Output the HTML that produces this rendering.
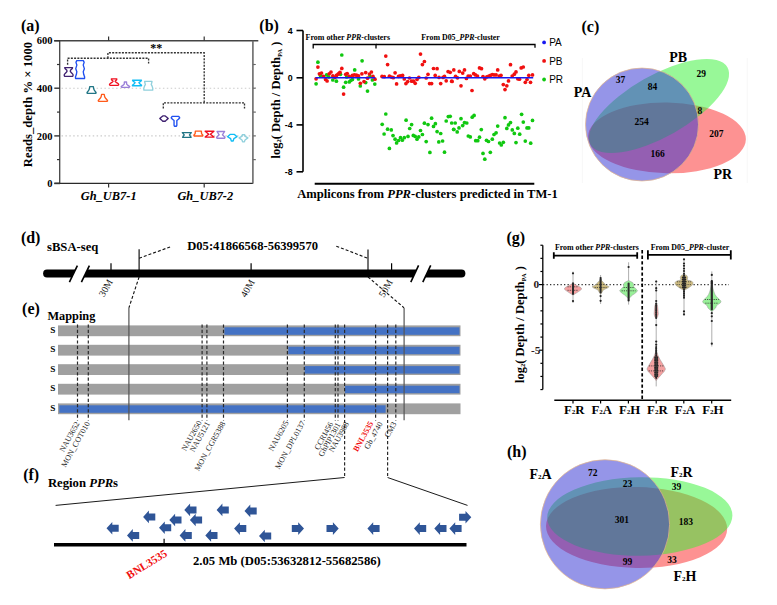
<!DOCTYPE html><html><head><meta charset="utf-8"><style>html,body{margin:0;padding:0;background:#fff;}svg{display:block;}</style></head><body>
<svg width="777" height="605" viewBox="0 0 777 605">
<rect width="777" height="605" fill="#fff"/>
<text x="21" y="30.5" font-family='"Liberation Serif", serif' font-size="16" font-weight="bold" text-anchor="start" fill="#000" >(a)</text>
<line x1="61.5" y1="88.2" x2="251" y2="88.2" stroke="#cccccc" stroke-width="1.1" stroke-dasharray="1.5,2.4" />
<line x1="61.5" y1="135.9" x2="251" y2="135.9" stroke="#cccccc" stroke-width="1.1" stroke-dasharray="1.5,2.4" />
<line x1="54.1" y1="40.7" x2="258.3" y2="40.7" stroke="#444" stroke-width="1.5" />
<line x1="59.7" y1="40.7" x2="59.7" y2="183.4" stroke="#444" stroke-width="1.3" />
<line x1="54.4" y1="183.4" x2="253.1" y2="183.4" stroke="#2a2a2a" stroke-width="1.4" />
<line x1="252.9" y1="40.7" x2="252.9" y2="183.4" stroke="#6a6a6a" stroke-width="1.6" />
<line x1="54.3" y1="40.7" x2="60" y2="40.7" stroke="#333" stroke-width="1.4" />
<text x="52.5" y="44.300000000000004" font-family='"Liberation Serif", serif' font-size="10.5" font-weight="bold" text-anchor="end" fill="#000" >600</text>
<line x1="54.3" y1="88.2" x2="60" y2="88.2" stroke="#333" stroke-width="1.4" />
<text x="52.5" y="91.8" font-family='"Liberation Serif", serif' font-size="10.5" font-weight="bold" text-anchor="end" fill="#000" >400</text>
<line x1="54.3" y1="135.9" x2="60" y2="135.9" stroke="#333" stroke-width="1.4" />
<text x="52.5" y="139.5" font-family='"Liberation Serif", serif' font-size="10.5" font-weight="bold" text-anchor="end" fill="#000" >200</text>
<line x1="54.3" y1="183.4" x2="60" y2="183.4" stroke="#333" stroke-width="1.6" />
<text x="52.5" y="187.0" font-family='"Liberation Serif", serif' font-size="10.5" font-weight="bold" text-anchor="end" fill="#000" >0</text>
<line x1="57" y1="64.5" x2="60" y2="64.5" stroke="#333" stroke-width="1.2" />
<line x1="57" y1="112.1" x2="60" y2="112.1" stroke="#333" stroke-width="1.2" />
<line x1="57" y1="159.6" x2="60" y2="159.6" stroke="#333" stroke-width="1.2" />
<line x1="252.9" y1="64.5" x2="255.8" y2="64.5" stroke="#6a6a6a" stroke-width="1.2" />
<line x1="252.9" y1="88.2" x2="255.8" y2="88.2" stroke="#6a6a6a" stroke-width="1.2" />
<line x1="252.9" y1="112.1" x2="255.8" y2="112.1" stroke="#6a6a6a" stroke-width="1.2" />
<line x1="252.9" y1="135.9" x2="255.8" y2="135.9" stroke="#6a6a6a" stroke-width="1.2" />
<line x1="252.9" y1="159.6" x2="255.8" y2="159.6" stroke="#6a6a6a" stroke-width="1.2" />
<line x1="108.6" y1="36.6" x2="108.6" y2="40.7" stroke="#333" stroke-width="1.2" />
<line x1="108.6" y1="183.5" x2="108.6" y2="187.5" stroke="#333" stroke-width="1.2" />
<line x1="204.2" y1="36.6" x2="204.2" y2="40.7" stroke="#333" stroke-width="1.2" />
<line x1="204.2" y1="183.5" x2="204.2" y2="187.5" stroke="#333" stroke-width="1.2" />
<text transform="translate(31.5,104.5) rotate(-90)" font-family='"Liberation Serif", serif' font-size="12.7" font-weight="bold" text-anchor="middle">Reads_depth % × 1000</text>
<text x="108.7" y="199.5" font-family='"Liberation Serif", serif' font-size="12.4" font-weight="bold" text-anchor="middle" fill="#000" font-style="italic" >Gh_UB7-1</text>
<text x="205.3" y="199.5" font-family='"Liberation Serif", serif' font-size="12.4" font-weight="bold" text-anchor="middle" fill="#000" font-style="italic" >Gh_UB7-2</text>
<text x="156.2" y="51.5" font-family='"Liberation Serif", serif' font-size="12" font-weight="bold" text-anchor="middle" fill="#000" >**</text>
<path d="M67.6,64.7 V58.2 H148.6 V63.5" stroke="#333" stroke-width="1.35" fill="none" stroke-dasharray="2,1.25" />
<path d="M107.9,58.2 V52.7 H204.2 V102.8" stroke="#333" stroke-width="1.35" fill="none" stroke-dasharray="2,1.25" />
<path d="M163.3,108.6 V102.8 H244.5 V108.6" stroke="#333" stroke-width="1.35" fill="none" stroke-dasharray="2,1.25" />
<path d="M72.55,67.60 L72.35,68.47 L70.45,70.21 L70.35,71.52 L71.45,72.82 L72.95,74.39 L73.05,75.60 L72.75,76.30 L64.55,76.30 L64.25,75.60 L64.35,74.39 L65.85,72.82 L66.95,71.52 L66.85,70.21 L64.95,68.47 L64.75,67.60 Z" stroke="#3F2170" stroke-width="1.35" fill="#fff" stroke-linejoin="round"/>
<path d="M83.35,60.60 L84.15,62.39 L83.25,65.08 L84.35,68.66 L83.25,71.70 L83.75,74.56 L84.65,77.07 L84.55,78.50 L75.55,78.50 L75.45,77.07 L76.35,74.56 L76.85,71.70 L75.75,68.66 L76.85,65.08 L75.95,62.39 L76.75,60.60 Z" stroke="#2050F0" stroke-width="1.35" fill="#fff" stroke-linejoin="round"/>
<path d="M93.35,86.60 L93.65,88.61 L94.15,89.95 L95.15,91.29 L96.05,92.50 L95.85,93.30 L87.25,93.30 L87.05,92.50 L87.95,91.29 L88.95,89.95 L89.45,88.61 L89.75,86.60 Z" stroke="#207585" stroke-width="1.35" fill="#fff" stroke-linejoin="round"/>
<path d="M104.20,94.40 L104.70,96.81 L105.80,98.54 L107.10,99.92 L107.60,100.75 L107.10,101.30 L98.70,101.30 L98.20,100.75 L98.70,99.92 L100.00,98.54 L101.10,96.81 L101.60,94.40 Z" stroke="#FF5A1A" stroke-width="1.35" fill="#fff" stroke-linejoin="round"/>
<path d="M116.80,78.80 L116.70,79.79 L115.10,81.31 L116.30,82.43 L118.30,83.75 L118.70,84.74 L117.90,85.40 L110.30,85.40 L109.50,84.74 L109.90,83.75 L111.90,82.43 L113.10,81.31 L111.50,79.79 L111.40,78.80 Z" stroke="#F01020" stroke-width="1.35" fill="#fff" stroke-linejoin="round"/>
<path d="M126.55,82.00 L126.65,84.12 L128.05,85.44 L129.75,86.50 L129.35,87.30 L121.55,87.30 L121.15,86.50 L122.85,85.44 L124.25,84.12 L124.35,82.00 Z" stroke="#9A80D8" stroke-width="1.35" fill="#fff" stroke-linejoin="round"/>
<path d="M141.50,80.20 L140.80,81.30 L138.90,82.67 L140.00,84.05 L141.40,85.04 L141.60,85.70 L132.40,85.70 L132.60,85.04 L134.00,84.05 L135.10,82.67 L133.20,81.30 L132.50,80.20 Z" stroke="#10BDF5" stroke-width="1.35" fill="#fff" stroke-linejoin="round"/>
<path d="M152.00,81.30 L151.70,83.06 L151.20,84.38 L152.10,86.14 L152.80,88.34 L152.70,90.10 L143.90,90.10 L143.80,88.34 L144.50,86.14 L145.40,84.38 L144.90,83.06 L144.60,81.30 Z" stroke="#90D0DC" stroke-width="1.35" fill="#fff" stroke-linejoin="round"/>
<path d="M165.20,115.90 L166.80,117.23 L168.20,118.55 L166.60,119.88 L165.20,121.20 L162.80,121.20 L161.40,119.88 L159.80,118.55 L161.20,117.23 L162.80,115.90 Z" stroke="#3F2170" stroke-width="1.35" fill="#fff" stroke-linejoin="round"/>
<path d="M178.75,116.30 L179.75,117.78 L178.45,119.27 L176.85,120.46 L176.85,125.21 L176.45,126.20 L174.45,126.20 L174.05,125.21 L174.05,120.46 L172.45,119.27 L171.15,117.78 L172.15,116.30 Z" stroke="#2050F0" stroke-width="1.35" fill="#fff" stroke-linejoin="round"/>
<path d="M191.35,132.60 L189.45,134.95 L191.15,137.30 L182.55,137.30 L184.25,134.95 L182.35,132.60 Z" stroke="#207585" stroke-width="1.35" fill="#fff" stroke-linejoin="round"/>
<path d="M201.35,131.10 L201.55,133.55 L202.85,135.26 L202.55,136.00 L194.15,136.00 L193.85,135.26 L195.15,133.55 L195.35,131.10 Z" stroke="#FF5A1A" stroke-width="1.35" fill="#fff" stroke-linejoin="round"/>
<path d="M213.95,131.20 L210.35,134.15 L213.95,137.10 L205.15,137.10 L208.75,134.15 L205.15,131.20 Z" stroke="#F01020" stroke-width="1.35" fill="#fff" stroke-linejoin="round"/>
<path d="M224.60,131.50 L222.40,134.85 L225.00,137.19 L224.60,138.20 L217.00,138.20 L216.60,137.19 L219.20,134.85 L217.00,131.50 Z" stroke="#9A80D8" stroke-width="1.35" fill="#fff" stroke-linejoin="round"/>
<path d="M234.45,134.40 L236.95,136.71 L233.85,138.69 L233.15,141.00 L231.35,141.00 L230.65,138.69 L227.55,136.71 L230.05,134.40 Z" stroke="#10BDF5" stroke-width="1.35" fill="#fff" stroke-linejoin="round"/>
<path d="M244.70,134.70 L244.80,136.12 L247.90,137.90 L245.00,140.03 L244.40,141.80 L242.60,141.80 L242.00,140.03 L239.10,137.90 L242.20,136.12 L242.30,134.70 Z" stroke="#90D0DC" stroke-width="1.35" fill="#fff" stroke-linejoin="round"/>
<text x="259.3" y="31" font-family='"Liberation Serif", serif' font-size="16" font-weight="bold" text-anchor="start" fill="#000" >(b)</text>
<line x1="303" y1="30.5" x2="303" y2="171.8" stroke="#000" stroke-width="1.6" />
<line x1="296.5" y1="30.5" x2="303" y2="30.5" stroke="#000" stroke-width="1.6" />
<text x="292.6" y="33.9" font-family='"Liberation Sans", sans-serif' font-size="8.8" font-weight="bold" text-anchor="end" fill="#000" >4</text>
<line x1="296.5" y1="77.8" x2="303" y2="77.8" stroke="#000" stroke-width="1.6" />
<text x="292.6" y="81.2" font-family='"Liberation Sans", sans-serif' font-size="8.8" font-weight="bold" text-anchor="end" fill="#000" >0</text>
<line x1="296.5" y1="124.9" x2="303" y2="124.9" stroke="#000" stroke-width="1.6" />
<text x="292.6" y="128.3" font-family='"Liberation Sans", sans-serif' font-size="8.8" font-weight="bold" text-anchor="end" fill="#000" >-4</text>
<line x1="296.5" y1="171.8" x2="303" y2="171.8" stroke="#000" stroke-width="1.6" />
<text x="292.6" y="175.20000000000002" font-family='"Liberation Sans", sans-serif' font-size="8.8" font-weight="bold" text-anchor="end" fill="#000" >-8</text>
<text transform="translate(280,100) rotate(-90)" font-family='"Liberation Serif", serif' font-size="12.5" font-weight="bold" text-anchor="middle">log<tspan font-size="6.5" dy="1.2">2</tspan><tspan dy="-1.2">( Depth / Depth</tspan><tspan font-size="6.5" dy="1.5">PA</tspan><tspan dy="-1.5"> )</tspan></text>
<path d="M313.2,48.4 V44.5 H376 V48.4" stroke="#000" stroke-width="1.3" fill="none" />
<path d="M376,44.5 H535 V47.8" stroke="#000" stroke-width="1.3" fill="none" />
<text x="305.6" y="40.2" font-family='"Liberation Serif", serif' font-size="7.95" font-weight="bold" text-anchor="start" fill="#000" >From other <tspan font-style="italic">PPR</tspan>-clusters</text>
<text x="421.3" y="40.2" font-family='"Liberation Serif", serif' font-size="7.9" font-weight="bold" text-anchor="start" fill="#000" >From D05_<tspan font-style="italic">PPR</tspan>-cluster</text>
<line x1="314.7" y1="183.8" x2="534.3" y2="183.8" stroke="#000" stroke-width="1.9" />
<text x="297.2" y="197.8" font-family='"Liberation Serif", serif' font-size="12.6" font-weight="bold" text-anchor="start" fill="#000" >Amplicons from <tspan font-style="italic">PPR</tspan>-clusters predicted in TM-1</text>
<circle cx="317.9" cy="62.2" r="1.85" fill="#10C810"/>
<circle cx="316.1" cy="83.8" r="1.85" fill="#10C810"/>
<circle cx="341.8" cy="55" r="1.85" fill="#10C810"/>
<circle cx="354.7" cy="69.9" r="1.85" fill="#10C810"/>
<circle cx="362.1" cy="60.8" r="1.85" fill="#10C810"/>
<circle cx="343.6" cy="87.2" r="1.85" fill="#10C810"/>
<circle cx="345.7" cy="82.3" r="1.85" fill="#10C810"/>
<circle cx="349.3" cy="81.9" r="1.85" fill="#10C810"/>
<circle cx="350.8" cy="80.5" r="1.85" fill="#10C810"/>
<circle cx="352.4" cy="79.5" r="1.85" fill="#10C810"/>
<circle cx="332.8" cy="80" r="1.85" fill="#10C810"/>
<circle cx="336.4" cy="81.2" r="1.85" fill="#10C810"/>
<circle cx="360.3" cy="86" r="1.85" fill="#10C810"/>
<circle cx="365.7" cy="82.6" r="1.85" fill="#10C810"/>
<circle cx="367.5" cy="91.1" r="1.85" fill="#10C810"/>
<circle cx="372.4" cy="80" r="1.85" fill="#10C810"/>
<circle cx="374.8" cy="84.1" r="1.85" fill="#10C810"/>
<circle cx="358.5" cy="79" r="1.85" fill="#10C810"/>
<circle cx="320.4" cy="75.4" r="1.85" fill="#10C810"/>
<circle cx="326.6" cy="74.9" r="1.85" fill="#10C810"/>
<circle cx="328.7" cy="76.9" r="1.85" fill="#10C810"/>
<circle cx="340.5" cy="74.3" r="1.85" fill="#10C810"/>
<circle cx="346.7" cy="76.9" r="1.85" fill="#10C810"/>
<circle cx="369.9" cy="75.9" r="1.85" fill="#10C810"/>
<circle cx="385.8" cy="114" r="1.85" fill="#10C810"/>
<circle cx="382.2" cy="124.3" r="1.85" fill="#10C810"/>
<circle cx="384.1" cy="134" r="1.85" fill="#10C810"/>
<circle cx="387.6" cy="129.2" r="1.85" fill="#10C810"/>
<circle cx="391.3" cy="129.9" r="1.85" fill="#10C810"/>
<circle cx="389.4" cy="148.4" r="1.85" fill="#10C810"/>
<circle cx="393" cy="135.6" r="1.85" fill="#10C810"/>
<circle cx="395.1" cy="139.2" r="1.85" fill="#10C810"/>
<circle cx="396.6" cy="142.9" r="1.85" fill="#10C810"/>
<circle cx="398.5" cy="140.5" r="1.85" fill="#10C810"/>
<circle cx="400.5" cy="137.7" r="1.85" fill="#10C810"/>
<circle cx="402.3" cy="140.2" r="1.85" fill="#10C810"/>
<circle cx="404.3" cy="137.7" r="1.85" fill="#10C810"/>
<circle cx="406.1" cy="120.2" r="1.85" fill="#10C810"/>
<circle cx="408" cy="136.4" r="1.85" fill="#10C810"/>
<circle cx="409.7" cy="128.5" r="1.85" fill="#10C810"/>
<circle cx="411.6" cy="124.6" r="1.85" fill="#10C810"/>
<circle cx="413.3" cy="135.4" r="1.85" fill="#10C810"/>
<circle cx="415.2" cy="136.4" r="1.85" fill="#10C810"/>
<circle cx="417" cy="139.2" r="1.85" fill="#10C810"/>
<circle cx="418.8" cy="136.9" r="1.85" fill="#10C810"/>
<circle cx="420.5" cy="130.5" r="1.85" fill="#10C810"/>
<circle cx="422.4" cy="134.5" r="1.85" fill="#10C810"/>
<circle cx="424.4" cy="123.2" r="1.85" fill="#10C810"/>
<circle cx="426.2" cy="141.6" r="1.85" fill="#10C810"/>
<circle cx="428" cy="124.6" r="1.85" fill="#10C810"/>
<circle cx="429.9" cy="152.4" r="1.85" fill="#10C810"/>
<circle cx="431.6" cy="118.2" r="1.85" fill="#10C810"/>
<circle cx="433.5" cy="126.4" r="1.85" fill="#10C810"/>
<circle cx="435.4" cy="123.7" r="1.85" fill="#10C810"/>
<circle cx="437.1" cy="131.6" r="1.85" fill="#10C810"/>
<circle cx="438.8" cy="141.9" r="1.85" fill="#10C810"/>
<circle cx="440.7" cy="133.5" r="1.85" fill="#10C810"/>
<circle cx="442.6" cy="141" r="1.85" fill="#10C810"/>
<circle cx="444.5" cy="152.2" r="1.85" fill="#10C810"/>
<circle cx="446.2" cy="121" r="1.85" fill="#10C810"/>
<circle cx="448.3" cy="116.6" r="1.85" fill="#10C810"/>
<circle cx="450.2" cy="116.3" r="1.85" fill="#10C810"/>
<circle cx="451.7" cy="123" r="1.85" fill="#10C810"/>
<circle cx="453.8" cy="129.5" r="1.85" fill="#10C810"/>
<circle cx="455.2" cy="123" r="1.85" fill="#10C810"/>
<circle cx="453.7" cy="129.3" r="1.85" fill="#10C810"/>
<circle cx="457.2" cy="131.9" r="1.85" fill="#10C810"/>
<circle cx="459" cy="127.9" r="1.85" fill="#10C810"/>
<circle cx="461" cy="118.7" r="1.85" fill="#10C810"/>
<circle cx="462.7" cy="125.6" r="1.85" fill="#10C810"/>
<circle cx="464.5" cy="122.6" r="1.85" fill="#10C810"/>
<circle cx="466.8" cy="123" r="1.85" fill="#10C810"/>
<circle cx="468.3" cy="136" r="1.85" fill="#10C810"/>
<circle cx="470.3" cy="136.9" r="1.85" fill="#10C810"/>
<circle cx="472.2" cy="117.2" r="1.85" fill="#10C810"/>
<circle cx="474.1" cy="115.4" r="1.85" fill="#10C810"/>
<circle cx="475.7" cy="140.7" r="1.85" fill="#10C810"/>
<circle cx="477.8" cy="140.7" r="1.85" fill="#10C810"/>
<circle cx="479.5" cy="137.2" r="1.85" fill="#10C810"/>
<circle cx="481.3" cy="129.6" r="1.85" fill="#10C810"/>
<circle cx="483" cy="153.4" r="1.85" fill="#10C810"/>
<circle cx="484.8" cy="159.2" r="1.85" fill="#10C810"/>
<circle cx="486.5" cy="140.3" r="1.85" fill="#10C810"/>
<circle cx="488.5" cy="141.5" r="1.85" fill="#10C810"/>
<circle cx="490.3" cy="152.3" r="1.85" fill="#10C810"/>
<circle cx="492.3" cy="139.2" r="1.85" fill="#10C810"/>
<circle cx="494" cy="134.5" r="1.85" fill="#10C810"/>
<circle cx="496.1" cy="132.8" r="1.85" fill="#10C810"/>
<circle cx="497.7" cy="126.1" r="1.85" fill="#10C810"/>
<circle cx="499.6" cy="143" r="1.85" fill="#10C810"/>
<circle cx="501.3" cy="145" r="1.85" fill="#10C810"/>
<circle cx="503.3" cy="142.3" r="1.85" fill="#10C810"/>
<circle cx="505" cy="117.7" r="1.85" fill="#10C810"/>
<circle cx="506.8" cy="128.4" r="1.85" fill="#10C810"/>
<circle cx="508.5" cy="124.9" r="1.85" fill="#10C810"/>
<circle cx="510.5" cy="122.6" r="1.85" fill="#10C810"/>
<circle cx="512.3" cy="129.9" r="1.85" fill="#10C810"/>
<circle cx="514.3" cy="133.4" r="1.85" fill="#10C810"/>
<circle cx="516" cy="142.6" r="1.85" fill="#10C810"/>
<circle cx="517.8" cy="128.2" r="1.85" fill="#10C810"/>
<circle cx="519.7" cy="134.2" r="1.85" fill="#10C810"/>
<circle cx="521.6" cy="114.3" r="1.85" fill="#10C810"/>
<circle cx="523.3" cy="122.1" r="1.85" fill="#10C810"/>
<circle cx="525.3" cy="141.1" r="1.85" fill="#10C810"/>
<circle cx="527" cy="127.9" r="1.85" fill="#10C810"/>
<circle cx="528.8" cy="127.9" r="1.85" fill="#10C810"/>
<circle cx="530.7" cy="143.2" r="1.85" fill="#10C810"/>
<circle cx="532.5" cy="120.4" r="1.85" fill="#10C810"/>
<circle cx="317.9" cy="67.1" r="1.85" fill="#F01010"/>
<circle cx="316.1" cy="78.8" r="1.85" fill="#F01010"/>
<circle cx="319.4" cy="73.8" r="1.85" fill="#F01010"/>
<circle cx="321.5" cy="73" r="1.85" fill="#F01010"/>
<circle cx="323.5" cy="76.4" r="1.85" fill="#F01010"/>
<circle cx="325.6" cy="79.5" r="1.85" fill="#F01010"/>
<circle cx="327.1" cy="81" r="1.85" fill="#F01010"/>
<circle cx="329.2" cy="73.8" r="1.85" fill="#F01010"/>
<circle cx="331" cy="72" r="1.85" fill="#F01010"/>
<circle cx="332.8" cy="75.9" r="1.85" fill="#F01010"/>
<circle cx="334.9" cy="77.4" r="1.85" fill="#F01010"/>
<circle cx="336.4" cy="75.4" r="1.85" fill="#F01010"/>
<circle cx="337.9" cy="74.3" r="1.85" fill="#F01010"/>
<circle cx="339" cy="73.3" r="1.85" fill="#F01010"/>
<circle cx="340" cy="72.3" r="1.85" fill="#F01010"/>
<circle cx="341.8" cy="68.4" r="1.85" fill="#F01010"/>
<circle cx="343.6" cy="94.1" r="1.85" fill="#F01010"/>
<circle cx="345.7" cy="74.3" r="1.85" fill="#F01010"/>
<circle cx="347.2" cy="73.6" r="1.85" fill="#F01010"/>
<circle cx="349.3" cy="76.4" r="1.85" fill="#F01010"/>
<circle cx="352.4" cy="75.4" r="1.85" fill="#F01010"/>
<circle cx="354.4" cy="74.9" r="1.85" fill="#F01010"/>
<circle cx="356.5" cy="75.2" r="1.85" fill="#F01010"/>
<circle cx="358.5" cy="75.9" r="1.85" fill="#F01010"/>
<circle cx="360.3" cy="83.3" r="1.85" fill="#F01010"/>
<circle cx="361.9" cy="73.8" r="1.85" fill="#F01010"/>
<circle cx="364" cy="81.6" r="1.85" fill="#F01010"/>
<circle cx="365.7" cy="72.6" r="1.85" fill="#F01010"/>
<circle cx="367.5" cy="78.2" r="1.85" fill="#F01010"/>
<circle cx="369.4" cy="74" r="1.85" fill="#F01010"/>
<circle cx="371.4" cy="72" r="1.85" fill="#F01010"/>
<circle cx="373" cy="76.4" r="1.85" fill="#F01010"/>
<circle cx="375" cy="79.2" r="1.85" fill="#F01010"/>
<circle cx="385.8" cy="56.1" r="1.85" fill="#F01010"/>
<circle cx="387.6" cy="64.6" r="1.85" fill="#F01010"/>
<circle cx="382" cy="76.4" r="1.85" fill="#F01010"/>
<circle cx="384.3" cy="76.7" r="1.85" fill="#F01010"/>
<circle cx="389.4" cy="76.2" r="1.85" fill="#F01010"/>
<circle cx="391.5" cy="77.1" r="1.85" fill="#F01010"/>
<circle cx="393.3" cy="77.7" r="1.85" fill="#F01010"/>
<circle cx="395.1" cy="72.8" r="1.85" fill="#F01010"/>
<circle cx="396.6" cy="83.9" r="1.85" fill="#F01010"/>
<circle cx="398.5" cy="76.4" r="1.85" fill="#F01010"/>
<circle cx="400.2" cy="75.9" r="1.85" fill="#F01010"/>
<circle cx="402.6" cy="75.4" r="1.85" fill="#F01010"/>
<circle cx="404.3" cy="79" r="1.85" fill="#F01010"/>
<circle cx="405.9" cy="83.6" r="1.85" fill="#F01010"/>
<circle cx="407.7" cy="81.6" r="1.85" fill="#F01010"/>
<circle cx="409.5" cy="78" r="1.85" fill="#F01010"/>
<circle cx="411.6" cy="81.2" r="1.85" fill="#F01010"/>
<circle cx="413.6" cy="81.2" r="1.85" fill="#F01010"/>
<circle cx="415.2" cy="83.3" r="1.85" fill="#F01010"/>
<circle cx="417" cy="79.5" r="1.85" fill="#F01010"/>
<circle cx="418.8" cy="77.4" r="1.85" fill="#F01010"/>
<circle cx="420.5" cy="54.1" r="1.85" fill="#F01010"/>
<circle cx="422.4" cy="64.6" r="1.85" fill="#F01010"/>
<circle cx="424.4" cy="61.5" r="1.85" fill="#F01010"/>
<circle cx="426.2" cy="78" r="1.85" fill="#F01010"/>
<circle cx="428" cy="74.3" r="1.85" fill="#F01010"/>
<circle cx="429.6" cy="83.6" r="1.85" fill="#F01010"/>
<circle cx="431.6" cy="83.6" r="1.85" fill="#F01010"/>
<circle cx="433.5" cy="68.5" r="1.85" fill="#F01010"/>
<circle cx="435.2" cy="75.4" r="1.85" fill="#F01010"/>
<circle cx="437.1" cy="68.7" r="1.85" fill="#F01010"/>
<circle cx="439" cy="77.4" r="1.85" fill="#F01010"/>
<circle cx="440.7" cy="83.6" r="1.85" fill="#F01010"/>
<circle cx="443" cy="77.4" r="1.85" fill="#F01010"/>
<circle cx="444.5" cy="76.4" r="1.85" fill="#F01010"/>
<circle cx="446.2" cy="80.8" r="1.85" fill="#F01010"/>
<circle cx="448.1" cy="71.6" r="1.85" fill="#F01010"/>
<circle cx="450.2" cy="72.3" r="1.85" fill="#F01010"/>
<circle cx="451.7" cy="81.2" r="1.85" fill="#F01010"/>
<circle cx="453.8" cy="69.9" r="1.85" fill="#F01010"/>
<circle cx="452.1" cy="81.5" r="1.85" fill="#F01010"/>
<circle cx="455.6" cy="76.3" r="1.85" fill="#F01010"/>
<circle cx="457.5" cy="77.8" r="1.85" fill="#F01010"/>
<circle cx="459.3" cy="71.4" r="1.85" fill="#F01010"/>
<circle cx="461" cy="85.8" r="1.85" fill="#F01010"/>
<circle cx="462.7" cy="73.1" r="1.85" fill="#F01010"/>
<circle cx="464.5" cy="69.9" r="1.85" fill="#F01010"/>
<circle cx="466.4" cy="78.4" r="1.85" fill="#F01010"/>
<circle cx="468.2" cy="76" r="1.85" fill="#F01010"/>
<circle cx="470.3" cy="76" r="1.85" fill="#F01010"/>
<circle cx="472" cy="90.5" r="1.85" fill="#F01010"/>
<circle cx="473.7" cy="73.7" r="1.85" fill="#F01010"/>
<circle cx="475.5" cy="74.9" r="1.85" fill="#F01010"/>
<circle cx="477.5" cy="76" r="1.85" fill="#F01010"/>
<circle cx="479.5" cy="67.9" r="1.85" fill="#F01010"/>
<circle cx="481.5" cy="68.7" r="1.85" fill="#F01010"/>
<circle cx="483" cy="76.5" r="1.85" fill="#F01010"/>
<circle cx="484.8" cy="78.8" r="1.85" fill="#F01010"/>
<circle cx="486.8" cy="76.9" r="1.85" fill="#F01010"/>
<circle cx="488.8" cy="76" r="1.85" fill="#F01010"/>
<circle cx="490.5" cy="75.3" r="1.85" fill="#F01010"/>
<circle cx="492.3" cy="74.5" r="1.85" fill="#F01010"/>
<circle cx="494" cy="74.9" r="1.85" fill="#F01010"/>
<circle cx="496.1" cy="74.9" r="1.85" fill="#F01010"/>
<circle cx="497.7" cy="69.9" r="1.85" fill="#F01010"/>
<circle cx="499.2" cy="76" r="1.85" fill="#F01010"/>
<circle cx="501" cy="75.3" r="1.85" fill="#F01010"/>
<circle cx="503.3" cy="84.6" r="1.85" fill="#F01010"/>
<circle cx="505" cy="89.6" r="1.85" fill="#F01010"/>
<circle cx="506.8" cy="85.8" r="1.85" fill="#F01010"/>
<circle cx="508.5" cy="80.9" r="1.85" fill="#F01010"/>
<circle cx="510.5" cy="64.7" r="1.85" fill="#F01010"/>
<circle cx="512.2" cy="76" r="1.85" fill="#F01010"/>
<circle cx="514.3" cy="74.2" r="1.85" fill="#F01010"/>
<circle cx="516" cy="71.9" r="1.85" fill="#F01010"/>
<circle cx="517.8" cy="78.8" r="1.85" fill="#F01010"/>
<circle cx="519.5" cy="79.2" r="1.85" fill="#F01010"/>
<circle cx="521.2" cy="67.9" r="1.85" fill="#F01010"/>
<circle cx="523.3" cy="67" r="1.85" fill="#F01010"/>
<circle cx="525.3" cy="82.3" r="1.85" fill="#F01010"/>
<circle cx="527" cy="79.5" r="1.85" fill="#F01010"/>
<circle cx="528.8" cy="75.3" r="1.85" fill="#F01010"/>
<circle cx="530.5" cy="82.3" r="1.85" fill="#F01010"/>
<circle cx="532.5" cy="74.9" r="1.85" fill="#F01010"/>
<line x1="315.5" y1="77.8" x2="375.3" y2="77.8" stroke="#1818F0" stroke-width="1.5" />
<line x1="381.7" y1="77.8" x2="533.2" y2="77.8" stroke="#1818F0" stroke-width="1.5" />
<circle cx="544.1" cy="42.4" r="1.9" fill="#1818F0"/>
<text x="549.2" y="46.0" font-family='"Liberation Sans", sans-serif' font-size="10" font-weight="normal" text-anchor="start" fill="#000" >PA</text>
<circle cx="544.1" cy="60.9" r="1.9" fill="#F01010"/>
<text x="549.2" y="64.5" font-family='"Liberation Sans", sans-serif' font-size="10" font-weight="normal" text-anchor="start" fill="#000" >PB</text>
<circle cx="544.1" cy="79.5" r="1.9" fill="#10C810"/>
<text x="549.2" y="83.1" font-family='"Liberation Sans", sans-serif' font-size="10" font-weight="normal" text-anchor="start" fill="#000" >PR</text>
<text x="581.5" y="31.5" font-family='"Liberation Serif", serif' font-size="16" font-weight="bold" text-anchor="start" fill="#000" >(c)</text>
<g opacity="1">
<ellipse cx="667" cy="137.9" rx="78.9" ry="35.4" transform="rotate(1 667 137.9)" fill="rgb(252,38,38)" fill-opacity="0.5"/>
<ellipse cx="659" cy="106" rx="78.6" ry="30.7" transform="rotate(-29.5 659 106)" fill="rgb(49,241,49)" fill-opacity="0.5"/>
<circle cx="642" cy="124.5" r="56.5" fill="rgb(43,43,209)" fill-opacity="0.5" stroke="#E8B888" stroke-width="0.7"/>
</g>
<line x1="582.4" y1="58" x2="582.4" y2="183" stroke="#f5f5f5" stroke-width="0.8" />
<line x1="747.3" y1="58" x2="747.3" y2="183" stroke="#f5f5f5" stroke-width="0.8" />
<text x="582.6" y="96.8" font-family='"Liberation Serif", serif' font-size="14" font-weight="bold" text-anchor="middle" fill="#000" >PA</text>
<text x="678.2" y="61.8" font-family='"Liberation Serif", serif' font-size="14" font-weight="bold" text-anchor="middle" fill="#000" >PB</text>
<text x="722.8" y="179.1" font-family='"Liberation Serif", serif' font-size="14" font-weight="bold" text-anchor="middle" fill="#000" >PR</text>
<text x="620.5" y="82.6" font-family='"Liberation Serif", serif' font-size="9.5" font-weight="bold" text-anchor="middle" fill="#000" >37</text>
<text x="652.6" y="90.2" font-family='"Liberation Serif", serif' font-size="9.5" font-weight="bold" text-anchor="middle" fill="#000" >84</text>
<text x="701.2" y="77.3" font-family='"Liberation Serif", serif' font-size="9.5" font-weight="bold" text-anchor="middle" fill="#000" >29</text>
<text x="699.8" y="114.0" font-family='"Liberation Serif", serif' font-size="9.5" font-weight="bold" text-anchor="middle" fill="#000" >8</text>
<text x="641.7" y="124.6" font-family='"Liberation Serif", serif' font-size="9.5" font-weight="bold" text-anchor="middle" fill="#000" >254</text>
<text x="716.4" y="136.9" font-family='"Liberation Serif", serif' font-size="9.5" font-weight="bold" text-anchor="middle" fill="#000" >207</text>
<text x="657.5" y="157.0" font-family='"Liberation Serif", serif' font-size="9.5" font-weight="bold" text-anchor="middle" fill="#000" >166</text>
<text x="20.9" y="243" font-family='"Liberation Serif", serif' font-size="16" font-weight="bold" text-anchor="start" fill="#000" >(d)</text>
<text x="47" y="251.1" font-family='"Liberation Serif", serif' font-size="12.65" font-weight="bold" text-anchor="start" fill="#000" >sBSA-seq</text>
<text x="187.2" y="250.2" font-family='"Liberation Serif", serif' font-size="12.6" font-weight="bold" text-anchor="start" fill="#000" >D05:41866568-56399570</text>
<path d="M47,273.5 H461.5" stroke="#000" stroke-width="7.8" stroke-linecap="round"/>
<polygon points="77.1,266.2 69.7,281.6 81.7,281.6 89.1,266.2" fill="#fff"/>
<line x1="77.4" y1="265.6" x2="69.4" y2="282.2" stroke="#000" stroke-width="1.6" />
<line x1="89.4" y1="265.6" x2="81.4" y2="282.2" stroke="#000" stroke-width="1.6" />
<polygon points="418.3,265.9 411.1,281.5 423.1,281.5 430.4,265.9" fill="#fff"/>
<line x1="418.6" y1="265.3" x2="410.8" y2="282.1" stroke="#000" stroke-width="1.6" />
<line x1="430.7" y1="265.3" x2="422.8" y2="282.1" stroke="#000" stroke-width="1.6" />
<line x1="111" y1="263.2" x2="111" y2="270" stroke="#000" stroke-width="1.2" />
<line x1="251.1" y1="263.2" x2="251.1" y2="270" stroke="#000" stroke-width="1.2" />
<line x1="391.6" y1="263.2" x2="391.6" y2="270" stroke="#000" stroke-width="1.2" />
<line x1="139.1" y1="249.3" x2="139.1" y2="274" stroke="#000" stroke-width="1.1" />
<line x1="368" y1="249.5" x2="368" y2="274" stroke="#000" stroke-width="1.1" />
<line x1="139.1" y1="258.3" x2="172" y2="246.2" stroke="#111" stroke-width="1.1" stroke-dasharray="3,2" />
<line x1="336.3" y1="246.2" x2="368" y2="258.3" stroke="#111" stroke-width="1.1" stroke-dasharray="3,2" />
<line x1="139.1" y1="277" x2="128.9" y2="307.8" stroke="#111" stroke-width="1.1" stroke-dasharray="3,2" />
<line x1="368" y1="277" x2="404.1" y2="307.8" stroke="#111" stroke-width="1.1" stroke-dasharray="3,2" />
<text transform="translate(105.8,288) rotate(-60)" font-family='"Liberation Serif", serif' font-size="9.8" text-anchor="middle" dy="3.2" fill="#111">30M</text>
<text transform="translate(247.7,288.3) rotate(-60)" font-family='"Liberation Serif", serif' font-size="9.8" text-anchor="middle" dy="3.2" fill="#111">40M</text>
<text transform="translate(385.8,288.3) rotate(-60)" font-family='"Liberation Serif", serif' font-size="9.8" text-anchor="middle" dy="3.2" fill="#111">50M</text>
<text x="22.1" y="313.6" font-family='"Liberation Serif", serif' font-size="16" font-weight="bold" text-anchor="start" fill="#000" >(e)</text>
<text x="47.5" y="320" font-family='"Liberation Serif", serif' font-size="12.3" font-weight="bold" text-anchor="start" fill="#000" >Mapping</text>
<rect x="58" y="325.4" width="402.5" height="10.8" fill="#A0A0A0"/>
<rect x="224.4" y="327.29999999999995" width="235.1" height="7.5" fill="#4472C4"/>
<text x="52.8" y="332.7" font-family='"Liberation Serif", serif' font-size="9.2" font-weight="bold" text-anchor="middle" fill="#000" >S</text>
<rect x="58" y="344.8" width="402.5" height="10.8" fill="#A0A0A0"/>
<rect x="288.3" y="346.7" width="171.2" height="7.5" fill="#4472C4"/>
<text x="52.8" y="352.1" font-family='"Liberation Serif", serif' font-size="9.2" font-weight="bold" text-anchor="middle" fill="#000" >S</text>
<rect x="58" y="364.2" width="402.5" height="10.8" fill="#A0A0A0"/>
<rect x="304.7" y="366.09999999999997" width="154.8" height="7.5" fill="#4472C4"/>
<text x="52.8" y="371.5" font-family='"Liberation Serif", serif' font-size="9.2" font-weight="bold" text-anchor="middle" fill="#000" >S</text>
<rect x="58" y="383.8" width="402.5" height="10.8" fill="#A0A0A0"/>
<rect x="345" y="385.7" width="114.5" height="7.5" fill="#4472C4"/>
<text x="52.8" y="391.1" font-family='"Liberation Serif", serif' font-size="9.2" font-weight="bold" text-anchor="middle" fill="#000" >S</text>
<rect x="58" y="403.4" width="402.5" height="10.8" fill="#A0A0A0"/>
<rect x="59.3" y="405.29999999999995" width="326.3" height="7.5" fill="#4472C4"/>
<text x="52.8" y="410.7" font-family='"Liberation Serif", serif' font-size="9.2" font-weight="bold" text-anchor="middle" fill="#000" >S</text>
<line x1="77.5" y1="324.5" x2="77.5" y2="420.5" stroke="#2a2a2a" stroke-width="1.2" stroke-dasharray="3.2,2.1" />
<line x1="88.3" y1="324.5" x2="88.3" y2="420.5" stroke="#2a2a2a" stroke-width="1.2" stroke-dasharray="3.2,2.1" />
<line x1="202.1" y1="324.5" x2="202.1" y2="420.5" stroke="#2a2a2a" stroke-width="1.2" stroke-dasharray="3.2,2.1" />
<line x1="206.9" y1="324.5" x2="206.9" y2="420.5" stroke="#2a2a2a" stroke-width="1.2" stroke-dasharray="3.2,2.1" />
<line x1="223.5" y1="324.5" x2="223.5" y2="420.5" stroke="#2a2a2a" stroke-width="1.2" stroke-dasharray="3.2,2.1" />
<line x1="287.4" y1="324.5" x2="287.4" y2="420.5" stroke="#2a2a2a" stroke-width="1.2" stroke-dasharray="3.2,2.1" />
<line x1="304.3" y1="324.5" x2="304.3" y2="420.5" stroke="#2a2a2a" stroke-width="1.2" stroke-dasharray="3.2,2.1" />
<line x1="335.3" y1="324.5" x2="335.3" y2="420.5" stroke="#2a2a2a" stroke-width="1.2" stroke-dasharray="3.2,2.1" />
<line x1="338.0" y1="324.5" x2="338.0" y2="420.5" stroke="#2a2a2a" stroke-width="1.2" stroke-dasharray="3.2,2.1" />
<line x1="344.6" y1="324.5" x2="344.6" y2="477.5" stroke="#2a2a2a" stroke-width="1.2" stroke-dasharray="3.2,2.1" />
<line x1="375.6" y1="324.5" x2="375.6" y2="420.5" stroke="#2a2a2a" stroke-width="1.2" stroke-dasharray="3.2,2.1" />
<line x1="387.6" y1="324.5" x2="387.6" y2="477.5" stroke="#2a2a2a" stroke-width="1.2" stroke-dasharray="3.2,2.1" />
<line x1="395.8" y1="324.5" x2="395.8" y2="420.5" stroke="#2a2a2a" stroke-width="1.2" stroke-dasharray="3.2,2.1" />
<line x1="128.9" y1="308" x2="128.9" y2="420.3" stroke="#555" stroke-width="1.2" />
<line x1="404.1" y1="308" x2="404.1" y2="420.3" stroke="#555" stroke-width="1.2" />
<text transform="translate(79.8,423.4) rotate(-61)" font-family='"Liberation Serif", serif' font-size="8.0" text-anchor="end" fill="#1a1a1a">NAU3652</text>
<text transform="translate(90.1,423.4) rotate(-61)" font-family='"Liberation Serif", serif' font-size="8.0" text-anchor="end" fill="#1a1a1a">MON_COT010</text>
<text transform="translate(201.9,422.4) rotate(-61)" font-family='"Liberation Serif", serif' font-size="8.0" text-anchor="end" fill="#1a1a1a">NAU2650</text>
<text transform="translate(210.2,423.4) rotate(-61)" font-family='"Liberation Serif", serif' font-size="8.0" text-anchor="end" fill="#1a1a1a">NAU5121</text>
<text transform="translate(225.6,423.4) rotate(-61)" font-family='"Liberation Serif", serif' font-size="8.0" text-anchor="end" fill="#1a1a1a">MON_CGR5388</text>
<text transform="translate(288.90000000000003,422.5) rotate(-61)" font-family='"Liberation Serif", serif' font-size="8.0" text-anchor="end" fill="#1a1a1a">NAU6205</text>
<text transform="translate(305.40000000000003,422.7) rotate(-61)" font-family='"Liberation Serif", serif' font-size="8.0" text-anchor="end" fill="#1a1a1a">MON_DPL0137</text>
<text transform="translate(333.5,423.7) rotate(-61)" font-family='"Liberation Serif", serif' font-size="8.0" text-anchor="end" fill="#1a1a1a">CCRI456</text>
<text transform="translate(340.8,424.5) rotate(-61)" font-family='"Liberation Serif", serif' font-size="8.0" text-anchor="end" fill="#1a1a1a">GhPIP1301</text>
<text transform="translate(349.20000000000005,423.7) rotate(-61)" font-family='"Liberation Serif", serif' font-size="8.0" text-anchor="end" fill="#1a1a1a">NAU3988</text>
<text transform="translate(373.6,423.1) rotate(-61)" font-family='"Liberation Serif", serif' font-size="8.2" font-weight="bold" text-anchor="end" fill="#F01010">BNL3535</text>
<text transform="translate(382.90000000000003,423.7) rotate(-61)" font-family='"Liberation Serif", serif' font-size="8.0" text-anchor="end" fill="#1a1a1a">Gb_4740</text>
<text transform="translate(396.8,423.7) rotate(-61)" font-family='"Liberation Serif", serif' font-size="8.0" text-anchor="end" fill="#1a1a1a">CM3</text>
<text x="23.2" y="480" font-family='"Liberation Serif", serif' font-size="16" font-weight="bold" text-anchor="start" fill="#000" >(f)</text>
<text x="47.9" y="487.2" font-family='"Liberation Serif", serif' font-size="12.7" font-weight="bold" text-anchor="start" fill="#000" >Region <tspan font-style="italic">PPR</tspan>s</text>
<line x1="55.6" y1="505.4" x2="344.6" y2="477.5" stroke="#000" stroke-width="0.9" />
<line x1="387.6" y1="477.5" x2="467.5" y2="505.4" stroke="#000" stroke-width="0.9" />
<line x1="54" y1="544.8" x2="466.5" y2="544.8" stroke="#000" stroke-width="3.6" />
<line x1="164.1" y1="538.7" x2="164.1" y2="544" stroke="#000" stroke-width="1.2" />
<text transform="translate(168,555.5) rotate(-31.5)" font-family='"Liberation Serif", serif' font-size="11.2" font-weight="bold" text-anchor="end" fill="#F01010">BNL3535</text>
<text x="193" y="565.3" font-family='"Liberation Serif", serif' font-size="12.7" font-weight="bold" text-anchor="start" fill="#000" >2.05 Mb (D05:53632812-55682586)</text>
<polygon points="106.5,528.2 112.3,521.9 112.3,524.8 118.7,524.8 118.7,531.7 112.3,531.7 112.3,534.5" fill="#2F5597"/>
<polygon points="127.0,535.4 132.8,529.1 132.8,531.9 139.2,531.9 139.2,538.9 132.8,538.9 132.8,541.7" fill="#2F5597"/>
<polygon points="143.1,516.9 148.9,510.6 148.9,513.4 155.3,513.4 155.3,520.4 148.9,520.4 148.9,523.2" fill="#2F5597"/>
<polygon points="159.0,527.8 164.8,521.5 164.8,524.3 171.2,524.3 171.2,531.2 164.8,531.2 164.8,534.1" fill="#2F5597"/>
<polygon points="169.3,520.0 175.1,513.7 175.1,516.5 181.5,516.5 181.5,523.5 175.1,523.5 175.1,526.3" fill="#2F5597"/>
<polygon points="184.3,509.9 190.1,503.6 190.1,506.4 196.5,506.4 196.5,513.4 190.1,513.4 190.1,516.2" fill="#2F5597"/>
<polygon points="189.9,520.0 195.7,513.7 195.7,516.5 202.1,516.5 202.1,523.5 195.7,523.5 195.7,526.3" fill="#2F5597"/>
<polygon points="179.6,535.4 185.4,529.1 185.4,531.9 191.8,531.9 191.8,538.9 185.4,538.9 185.4,541.7" fill="#2F5597"/>
<polygon points="205.3,535.4 211.1,529.1 211.1,531.9 217.5,531.9 217.5,538.9 211.1,538.9 211.1,541.7" fill="#2F5597"/>
<polygon points="216.6,509.9 222.4,503.6 222.4,506.4 228.8,506.4 228.8,513.4 222.4,513.4 222.4,516.2" fill="#2F5597"/>
<polygon points="234.1,528.6 239.9,522.3 239.9,525.1 246.3,525.1 246.3,532.1 239.9,532.1 239.9,534.9" fill="#2F5597"/>
<polygon points="244.5,510.9 250.3,504.6 250.3,507.4 256.7,507.4 256.7,514.4 250.3,514.4 250.3,517.2" fill="#2F5597"/>
<polygon points="259.0,536.0 264.8,529.7 264.8,532.5 271.2,532.5 271.2,539.5 264.8,539.5 264.8,542.3" fill="#2F5597"/>
<polygon points="304.0,528.6 298.2,522.3 298.2,525.1 291.8,525.1 291.8,532.1 298.2,532.1 298.2,534.9" fill="#2F5597"/>
<polygon points="338.7,528.6 332.9,522.3 332.9,525.1 326.5,525.1 326.5,532.1 332.9,532.1 332.9,534.9" fill="#2F5597"/>
<polygon points="367.4,528.6 373.2,522.3 373.2,525.1 379.6,525.1 379.6,532.1 373.2,532.1 373.2,534.9" fill="#2F5597"/>
<polygon points="414.0,528.6 419.8,522.3 419.8,525.1 426.2,525.1 426.2,532.1 419.8,532.1 419.8,534.9" fill="#2F5597"/>
<polygon points="434.3,528.6 440.1,522.3 440.1,525.1 446.5,525.1 446.5,532.1 440.1,532.1 440.1,534.9" fill="#2F5597"/>
<polygon points="449.4,528.6 455.2,522.3 455.2,525.1 461.6,525.1 461.6,532.1 455.2,532.1 455.2,534.9" fill="#2F5597"/>
<polygon points="471.3,517.3 465.5,511.0 465.5,513.8 459.1,513.8 459.1,520.8 465.5,520.8 465.5,523.6" fill="#2F5597"/>
<text x="506.5" y="242.8" font-family='"Liberation Serif", serif' font-size="16" font-weight="bold" text-anchor="start" fill="#000" >(g)</text>
<line x1="543" y1="284.6" x2="729" y2="284.6" stroke="#333" stroke-width="1.2" stroke-dasharray="1.3,2.2" />
<line x1="542.8" y1="245.24" x2="542.8" y2="389.56" stroke="#000" stroke-width="1.3" />
<line x1="540.4" y1="245.24" x2="542.8" y2="245.24" stroke="#000" stroke-width="1.2" />
<line x1="540.4" y1="258.36" x2="542.8" y2="258.36" stroke="#000" stroke-width="1.2" />
<line x1="540.4" y1="271.48" x2="542.8" y2="271.48" stroke="#000" stroke-width="1.2" />
<line x1="538.9" y1="284.6" x2="542.8" y2="284.6" stroke="#000" stroke-width="1.2" />
<line x1="540.4" y1="297.72" x2="542.8" y2="297.72" stroke="#000" stroke-width="1.2" />
<line x1="540.4" y1="310.84000000000003" x2="542.8" y2="310.84000000000003" stroke="#000" stroke-width="1.2" />
<line x1="540.4" y1="323.96000000000004" x2="542.8" y2="323.96000000000004" stroke="#000" stroke-width="1.2" />
<line x1="540.4" y1="337.08000000000004" x2="542.8" y2="337.08000000000004" stroke="#000" stroke-width="1.2" />
<line x1="538.9" y1="350.20000000000005" x2="542.8" y2="350.20000000000005" stroke="#000" stroke-width="1.2" />
<line x1="540.4" y1="363.32000000000005" x2="542.8" y2="363.32000000000005" stroke="#000" stroke-width="1.2" />
<line x1="540.4" y1="376.44" x2="542.8" y2="376.44" stroke="#000" stroke-width="1.2" />
<line x1="540.4" y1="389.56" x2="542.8" y2="389.56" stroke="#000" stroke-width="1.2" />
<text x="539.2" y="287.8" font-family='"Liberation Serif", serif' font-size="11.3" font-weight="bold" text-anchor="end" fill="#2a1818" >0</text>
<text x="540.4" y="353.8" font-family='"Liberation Serif", serif' font-size="11.3" font-weight="bold" text-anchor="end" fill="#2a1818" >-5</text>
<text transform="translate(524.2,324.5) rotate(-90)" font-family='"Liberation Serif", serif' font-size="12.5" font-weight="bold" text-anchor="middle">log<tspan font-size="6.5" dy="1.2">2</tspan><tspan dy="-1.2">( Depth / Depth</tspan><tspan font-size="6.5" dy="1.5">PA</tspan><tspan dy="-1.5"> )</tspan></text>
<line x1="642.2" y1="250" x2="642.2" y2="399" stroke="#000" stroke-width="1.7" stroke-dasharray="3.4,2.2" />
<line x1="554.3" y1="400.2" x2="731.2" y2="400.2" stroke="#000" stroke-width="1.6" />
<line x1="573" y1="400.2" x2="573" y2="403.5" stroke="#000" stroke-width="1.2" />
<text x="574.2" y="414.4" font-family='"Liberation Serif", serif' font-size="12.8" font-weight="bold" text-anchor="middle" fill="#000" >F<tspan font-size="7">2</tspan>R</text>
<line x1="600.6" y1="400.2" x2="600.6" y2="403.5" stroke="#000" stroke-width="1.2" />
<text x="601.8000000000001" y="414.4" font-family='"Liberation Serif", serif' font-size="12.8" font-weight="bold" text-anchor="middle" fill="#000" >F<tspan font-size="7">2</tspan>A</text>
<line x1="628.4" y1="400.2" x2="628.4" y2="403.5" stroke="#000" stroke-width="1.2" />
<text x="629.6" y="414.4" font-family='"Liberation Serif", serif' font-size="12.8" font-weight="bold" text-anchor="middle" fill="#000" >F<tspan font-size="7">2</tspan>H</text>
<line x1="656.2" y1="400.2" x2="656.2" y2="403.5" stroke="#000" stroke-width="1.2" />
<text x="657.4000000000001" y="414.4" font-family='"Liberation Serif", serif' font-size="12.8" font-weight="bold" text-anchor="middle" fill="#000" >F<tspan font-size="7">2</tspan>R</text>
<line x1="683.8" y1="400.2" x2="683.8" y2="403.5" stroke="#000" stroke-width="1.2" />
<text x="685.0" y="414.4" font-family='"Liberation Serif", serif' font-size="12.8" font-weight="bold" text-anchor="middle" fill="#000" >F<tspan font-size="7">2</tspan>A</text>
<line x1="711.7" y1="400.2" x2="711.7" y2="403.5" stroke="#000" stroke-width="1.2" />
<text x="712.9000000000001" y="414.4" font-family='"Liberation Serif", serif' font-size="12.8" font-weight="bold" text-anchor="middle" fill="#000" >F<tspan font-size="7">2</tspan>H</text>
<path d="M553.8,252.2 V258.8 M553.8,255.6 H637.2 M637.2,252.2 V258.8" stroke="#000" stroke-width="1.8" fill="none" />
<path d="M647.9,250.2 V259.4 M647.9,254.9 H730.8 M730.8,250.2 V259.4" stroke="#000" stroke-width="1.8" fill="none" />
<text x="554.9" y="249.6" font-family='"Liberation Serif", serif' font-size="7.9" font-weight="bold" text-anchor="start" fill="#000" >From other <tspan font-style="italic">PPR</tspan>-clusters</text>
<text x="650.7" y="249.5" font-family='"Liberation Serif", serif' font-size="7.9" font-weight="bold" text-anchor="start" fill="#000" >From D05_<tspan font-style="italic">PPR</tspan>-cluster</text>
<line x1="573" y1="271.6" x2="573" y2="302.9" stroke="#999" stroke-width="0.8" />
<path d="M573.50,283.40 L576.50,285.20 L580.50,287.30 L581.80,289.00 L580.00,290.60 L577.00,292.60 L573.50,294.80 L572.50,294.80 L569.00,292.60 L566.00,290.60 L564.20,289.00 L565.50,287.30 L569.50,285.20 L572.50,283.40 Z" fill="#F4A0A0" stroke="#999" stroke-width="0.5" stroke-linejoin="round"/>
<line x1="567.5" y1="286.8" x2="578.5" y2="286.8" stroke="#333" stroke-width="0.8" stroke-dasharray="1.2,1" />
<line x1="567.5" y1="290.3" x2="578.5" y2="290.3" stroke="#333" stroke-width="0.8" stroke-dasharray="1.2,1" />
<rect x="572.0" y="282.2" width="2.0" height="12.800000000000011" rx="1.0" fill="#2a2a2a"/>
<circle cx="573" cy="273.3" r="1.1" fill="#222"/>
<circle cx="573" cy="301.1" r="1.1" fill="#222"/>
<line x1="600.6" y1="275" x2="600.6" y2="304" stroke="#999" stroke-width="0.8" />
<path d="M601.10,280.10 L603.60,282.50 L605.60,285.00 L609.20,286.70 L607.60,288.00 L603.60,289.70 L601.10,293.70 L600.10,293.70 L597.60,289.70 L593.60,288.00 L592.00,286.70 L595.60,285.00 L597.60,282.50 L600.10,280.10 Z" fill="#CDBB80" stroke="#999" stroke-width="0.5" stroke-linejoin="round"/>
<line x1="596.6" y1="284.5" x2="604.6" y2="284.5" stroke="#333" stroke-width="0.8" stroke-dasharray="1.2,1" />
<line x1="594.6" y1="287.5" x2="606.6" y2="287.5" stroke="#333" stroke-width="0.8" stroke-dasharray="1.2,1" />
<rect x="599.6" y="278.2" width="2.0" height="15.300000000000011" rx="1.0" fill="#2a2a2a"/>
<circle cx="600.6" cy="278.0" r="1.1" fill="#222"/>
<circle cx="600.6" cy="296.1" r="1.1" fill="#222"/>
<circle cx="600.6" cy="300.8" r="1.1" fill="#222"/>
<line x1="628.6" y1="262.3" x2="628.6" y2="304.6" stroke="#999" stroke-width="0.8" />
<path d="M629.10,280.70 L632.60,282.50 L633.80,284.50 L633.60,286.50 L635.60,288.50 L637.60,290.70 L635.60,293.00 L632.60,295.00 L629.10,298.30 L628.10,298.30 L624.60,295.00 L621.60,293.00 L619.60,290.70 L621.60,288.50 L623.60,286.50 L623.40,284.50 L624.60,282.50 L628.10,280.70 Z" fill="#98F098" stroke="#999" stroke-width="0.5" stroke-linejoin="round"/>
<line x1="623.6" y1="287.5" x2="633.6" y2="287.5" stroke="#333" stroke-width="0.8" stroke-dasharray="1.2,1" />
<line x1="621.6" y1="290.8" x2="635.6" y2="290.8" stroke="#333" stroke-width="0.8" stroke-dasharray="1.2,1" />
<rect x="627.6" y="282.6" width="2.0" height="17.899999999999977" rx="1.0" fill="#2a2a2a"/>
<circle cx="628.6" cy="267.0" r="1.1" fill="#222"/>
<circle cx="628.6" cy="300.5" r="1.1" fill="#222"/>
<line x1="684" y1="258.9" x2="684" y2="316" stroke="#999" stroke-width="0.8" />
<path d="M684.50,274.40 L686.80,275.50 L687.70,277.30 L687.40,279.00 L687.00,280.00 L691.50,281.00 L693.00,282.50 L692.80,284.50 L690.50,286.50 L687.50,288.50 L684.50,290.20 L683.50,290.20 L680.50,288.50 L677.50,286.50 L675.20,284.50 L675.00,282.50 L676.50,281.00 L681.00,280.00 L680.60,279.00 L680.30,277.30 L681.20,275.50 L683.50,274.40 Z" fill="#CDBB80" stroke="#999" stroke-width="0.5" stroke-linejoin="round"/>
<line x1="677" y1="281.8" x2="691" y2="281.8" stroke="#333" stroke-width="0.8" stroke-dasharray="1.2,1" />
<line x1="676.5" y1="284.6" x2="691.5" y2="284.6" stroke="#333" stroke-width="0.8" stroke-dasharray="1.2,1" />
<line x1="679.5" y1="287.2" x2="688.5" y2="287.2" stroke="#333" stroke-width="0.8" stroke-dasharray="1.2,1" />
<circle cx="684" cy="259.3" r="1.1" fill="#222"/>
<circle cx="684" cy="263.5" r="1.1" fill="#222"/>
<circle cx="684" cy="265.8" r="1.1" fill="#222"/>
<circle cx="684" cy="268.6" r="1.1" fill="#222"/>
<circle cx="684" cy="271.0" r="1.1" fill="#222"/>
<rect x="683.4" y="273.5" width="1.2" height="25.19999999999999" fill="#333"/>
<circle cx="684.00" cy="273.50" r="1.0" fill="#262626"/>
<circle cx="684.00" cy="275.50" r="1.0" fill="#262626"/>
<circle cx="682.80" cy="277.50" r="1.0" fill="#262626"/>
<circle cx="684.00" cy="277.50" r="1.0" fill="#262626"/>
<circle cx="685.20" cy="277.50" r="1.0" fill="#262626"/>
<circle cx="682.80" cy="279.50" r="1.0" fill="#262626"/>
<circle cx="684.00" cy="279.50" r="1.0" fill="#262626"/>
<circle cx="685.20" cy="279.50" r="1.0" fill="#262626"/>
<circle cx="682.80" cy="281.50" r="1.0" fill="#262626"/>
<circle cx="684.00" cy="281.50" r="1.0" fill="#262626"/>
<circle cx="685.20" cy="281.50" r="1.0" fill="#262626"/>
<circle cx="682.80" cy="283.50" r="1.0" fill="#262626"/>
<circle cx="684.00" cy="283.50" r="1.0" fill="#262626"/>
<circle cx="685.20" cy="283.50" r="1.0" fill="#262626"/>
<circle cx="682.80" cy="285.50" r="1.0" fill="#262626"/>
<circle cx="684.00" cy="285.50" r="1.0" fill="#262626"/>
<circle cx="685.20" cy="285.50" r="1.0" fill="#262626"/>
<circle cx="682.80" cy="287.50" r="1.0" fill="#262626"/>
<circle cx="684.00" cy="287.50" r="1.0" fill="#262626"/>
<circle cx="685.20" cy="287.50" r="1.0" fill="#262626"/>
<circle cx="684.00" cy="289.50" r="1.0" fill="#262626"/>
<circle cx="684.00" cy="291.50" r="1.0" fill="#262626"/>
<circle cx="684.00" cy="293.50" r="1.0" fill="#262626"/>
<circle cx="684.00" cy="295.50" r="1.0" fill="#262626"/>
<circle cx="684.00" cy="297.50" r="1.0" fill="#262626"/>
<circle cx="684" cy="311.4" r="1.1" fill="#222"/>
<circle cx="684" cy="314.3" r="1.1" fill="#222"/>
<line x1="711.8" y1="271.4" x2="711.8" y2="346.5" stroke="#999" stroke-width="0.8" />
<path d="M712.30,285.00 L713.10,289.00 L714.00,292.00 L715.00,294.50 L716.40,296.50 L718.40,298.50 L720.30,300.30 L721.00,301.50 L720.30,303.00 L717.80,304.50 L716.40,306.00 L715.60,308.00 L714.00,309.50 L712.30,311.20 L711.30,311.20 L709.60,309.50 L708.00,308.00 L707.20,306.00 L705.80,304.50 L703.30,303.00 L702.60,301.50 L703.30,300.30 L705.20,298.50 L707.20,296.50 L708.60,294.50 L709.60,292.00 L710.50,289.00 L711.30,285.00 Z" fill="#98F098" stroke="#999" stroke-width="0.5" stroke-linejoin="round"/>
<line x1="704.8" y1="299.5" x2="718.8" y2="299.5" stroke="#333" stroke-width="0.8" stroke-dasharray="1.2,1" />
<line x1="705.3" y1="303.2" x2="718.3" y2="303.2" stroke="#333" stroke-width="0.8" stroke-dasharray="1.2,1" />
<rect x="710.6999999999999" y="280.5" width="2.2" height="30.0" rx="1.1" fill="#2a2a2a"/>
<circle cx="711.8" cy="274.9" r="1.1" fill="#222"/>
<circle cx="711.8" cy="281.0" r="1.1" fill="#222"/>
<circle cx="711.8" cy="283.0" r="1.1" fill="#222"/>
<circle cx="711.8" cy="313.2" r="1.1" fill="#222"/>
<circle cx="711.8" cy="316.3" r="1.1" fill="#222"/>
<circle cx="711.8" cy="321.0" r="1.1" fill="#222"/>
<circle cx="711.8" cy="343.7" r="1.1" fill="#222"/>
<line x1="656.2" y1="280.3" x2="656.2" y2="386.4" stroke="#999" stroke-width="0.8" />
<path d="M656.70,303.10 L657.60,306.00 L658.00,310.00 L658.30,314.00 L657.70,316.50 L656.70,318.20 L655.70,318.20 L654.70,316.50 L654.10,314.00 L654.40,310.00 L654.80,306.00 L655.70,303.10 Z" fill="#F4A0A0" stroke="#999" stroke-width="0.5" stroke-linejoin="round"/>
<path d="M656.70,351.60 L658.20,356.00 L660.10,359.60 L662.20,363.00 L664.00,366.00 L665.50,369.00 L664.20,371.50 L662.10,373.70 L659.70,376.50 L657.20,379.20 L656.50,380.50 L655.90,380.50 L655.20,379.20 L652.70,376.50 L650.30,373.70 L648.20,371.50 L646.90,369.00 L648.40,366.00 L650.20,363.00 L652.30,359.60 L654.20,356.00 L655.70,351.60 Z" fill="#F4A0A0" stroke="#999" stroke-width="0.5" stroke-linejoin="round"/>
<line x1="649.0" y1="365.9" x2="663.4000000000001" y2="365.9" stroke="#333" stroke-width="0.8" stroke-dasharray="1.2,1" />
<line x1="648.7" y1="370.9" x2="663.7" y2="370.9" stroke="#333" stroke-width="0.8" stroke-dasharray="1.2,1" />
<circle cx="656.2" cy="281.5" r="1.1" fill="#222"/>
<circle cx="656.2" cy="288.2" r="1.1" fill="#222"/>
<circle cx="656.2" cy="290.5" r="1.1" fill="#222"/>
<circle cx="656.2" cy="301.0" r="1.1" fill="#222"/>
<circle cx="656.2" cy="325.1" r="1.1" fill="#222"/>
<circle cx="656.2" cy="341.6" r="1.1" fill="#222"/>
<circle cx="656.2" cy="344.7" r="1.1" fill="#222"/>
<rect x="655.6" y="303.5" width="1.2" height="14.5" fill="#333"/>
<circle cx="656.20" cy="303.50" r="1.0" fill="#262626"/>
<circle cx="656.20" cy="305.30" r="1.0" fill="#262626"/>
<circle cx="656.20" cy="307.10" r="1.0" fill="#262626"/>
<circle cx="656.20" cy="308.90" r="1.0" fill="#262626"/>
<circle cx="656.20" cy="310.70" r="1.0" fill="#262626"/>
<circle cx="656.20" cy="312.50" r="1.0" fill="#262626"/>
<circle cx="656.20" cy="314.30" r="1.0" fill="#262626"/>
<circle cx="656.20" cy="316.10" r="1.0" fill="#262626"/>
<circle cx="656.20" cy="317.90" r="1.0" fill="#262626"/>
<rect x="655.6" y="347" width="1.2" height="32.19999999999999" fill="#333"/>
<circle cx="656.20" cy="347.00" r="1.0" fill="#262626"/>
<circle cx="656.20" cy="348.70" r="1.0" fill="#262626"/>
<circle cx="656.20" cy="350.40" r="1.0" fill="#262626"/>
<circle cx="656.20" cy="352.10" r="1.0" fill="#262626"/>
<circle cx="656.20" cy="353.80" r="1.0" fill="#262626"/>
<circle cx="656.20" cy="355.50" r="1.0" fill="#262626"/>
<circle cx="655.10" cy="357.20" r="1.0" fill="#262626"/>
<circle cx="657.30" cy="357.20" r="1.0" fill="#262626"/>
<circle cx="655.10" cy="358.90" r="1.0" fill="#262626"/>
<circle cx="657.30" cy="358.90" r="1.0" fill="#262626"/>
<circle cx="655.10" cy="360.60" r="1.0" fill="#262626"/>
<circle cx="657.30" cy="360.60" r="1.0" fill="#262626"/>
<circle cx="655.10" cy="362.30" r="1.0" fill="#262626"/>
<circle cx="657.30" cy="362.30" r="1.0" fill="#262626"/>
<circle cx="655.10" cy="364.00" r="1.0" fill="#262626"/>
<circle cx="657.30" cy="364.00" r="1.0" fill="#262626"/>
<circle cx="655.10" cy="365.70" r="1.0" fill="#262626"/>
<circle cx="657.30" cy="365.70" r="1.0" fill="#262626"/>
<circle cx="655.10" cy="367.40" r="1.0" fill="#262626"/>
<circle cx="657.30" cy="367.40" r="1.0" fill="#262626"/>
<circle cx="655.10" cy="369.10" r="1.0" fill="#262626"/>
<circle cx="657.30" cy="369.10" r="1.0" fill="#262626"/>
<circle cx="655.10" cy="370.80" r="1.0" fill="#262626"/>
<circle cx="657.30" cy="370.80" r="1.0" fill="#262626"/>
<circle cx="655.10" cy="372.50" r="1.0" fill="#262626"/>
<circle cx="657.30" cy="372.50" r="1.0" fill="#262626"/>
<circle cx="655.10" cy="374.20" r="1.0" fill="#262626"/>
<circle cx="657.30" cy="374.20" r="1.0" fill="#262626"/>
<circle cx="655.10" cy="375.90" r="1.0" fill="#262626"/>
<circle cx="657.30" cy="375.90" r="1.0" fill="#262626"/>
<circle cx="656.20" cy="377.60" r="1.0" fill="#262626"/>
<text x="507" y="457" font-family='"Liberation Serif", serif' font-size="16" font-weight="bold" text-anchor="start" fill="#000" >(h)</text>
<ellipse cx="636.6" cy="527.5" rx="90.6" ry="40.4" transform="rotate(1 636.6 527.5)" fill="rgb(252,38,38)" fill-opacity="0.5"/>
<ellipse cx="639.8" cy="516.5" rx="92.6" ry="39.2" transform="rotate(-0.8 639.8 516.5)" fill="rgb(49,241,49)" fill-opacity="0.5"/>
<circle cx="605" cy="524.3" r="64.6" fill="rgb(43,43,209)" fill-opacity="0.5" stroke="#E8B888" stroke-width="0.7"/>
<text x="540.6" y="478.8" font-family='"Liberation Serif", serif' font-size="14" font-weight="bold" text-anchor="middle" fill="#000" >F<tspan font-size="7">2</tspan>A</text>
<text x="681.5" y="477.1" font-family='"Liberation Serif", serif' font-size="14" font-weight="bold" text-anchor="middle" fill="#000" >F<tspan font-size="7">2</tspan>R</text>
<text x="684.9" y="580.5" font-family='"Liberation Serif", serif' font-size="14" font-weight="bold" text-anchor="middle" fill="#000" >F<tspan font-size="7">2</tspan>H</text>
<text x="592.7" y="475.5" font-family='"Liberation Serif", serif' font-size="9.5" font-weight="bold" text-anchor="middle" fill="#000" >72</text>
<text x="627.4" y="487.3" font-family='"Liberation Serif", serif' font-size="9.5" font-weight="bold" text-anchor="middle" fill="#000" >23</text>
<text x="676.6" y="490.2" font-family='"Liberation Serif", serif' font-size="9.5" font-weight="bold" text-anchor="middle" fill="#000" >39</text>
<text x="621.9" y="522.6999999999999" font-family='"Liberation Serif", serif' font-size="9.5" font-weight="bold" text-anchor="middle" fill="#000" >301</text>
<text x="685.8" y="525.3" font-family='"Liberation Serif", serif' font-size="9.5" font-weight="bold" text-anchor="middle" fill="#000" >183</text>
<text x="627.4" y="565.1999999999999" font-family='"Liberation Serif", serif' font-size="9.5" font-weight="bold" text-anchor="middle" fill="#000" >99</text>
<text x="672.1" y="563.0" font-family='"Liberation Serif", serif' font-size="9.5" font-weight="bold" text-anchor="middle" fill="#000" >33</text>
</svg></body></html>
